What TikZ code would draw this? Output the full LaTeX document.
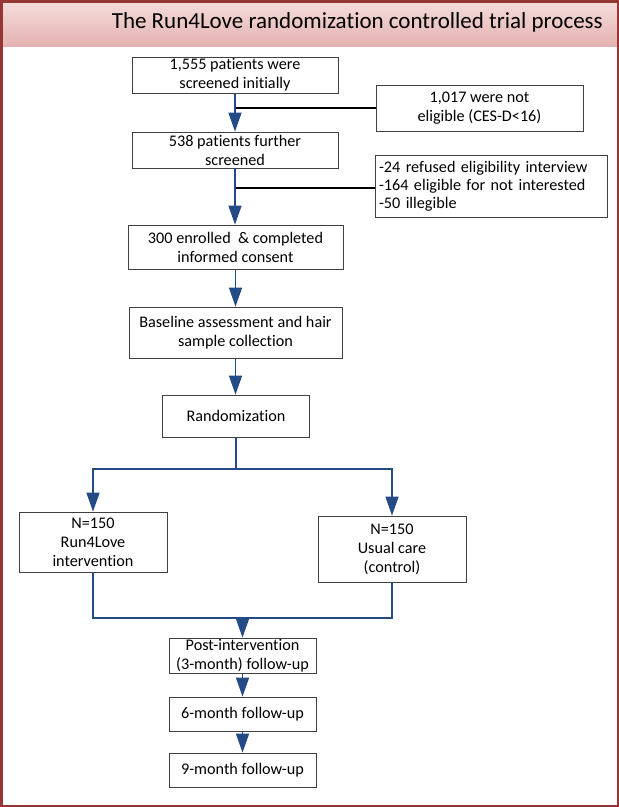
\documentclass[tikz,border=0pt]{standalone}
\usepackage{fontspec}
\setmainfont{Carlito}[Ligatures={NoCommon}]
\usetikzlibrary{arrows.meta}
\definecolor{frame}{RGB}{148,54,52}
\definecolor{flow}{RGB}{37,75,135}
\definecolor{boxline}{RGB}{64,64,64}
\definecolor{bandtop}{RGB}{244,222,221}
\definecolor{bandbot}{RGB}{228,178,176}
\begin{document}
\begin{tikzpicture}[x=1pt,y=-1pt,
  box/.style={draw=boxline, line width=0.8pt, rectangle, align=center, inner sep=0pt,
    font=\fontsize{16.2}{19}\selectfont},
  sidebox/.style={draw=boxline, line width=0.8pt, rectangle, align=left, inner xsep=4pt, inner ysep=0pt,
    font=\fontsize{16.2}{18}\selectfont},
  flowarrow/.style={draw=flow, line width=1.6pt, -{Triangle[length=19pt,width=13pt]}},
  flowline/.style={draw=flow, line width=1.6pt},
  sideline/.style={draw=black, line width=1.1pt}]
\useasboundingbox (0,0) rectangle (619,807);
% title band
\shade[top color=bandtop, bottom color=bandbot] (0,0) rectangle (619,46);
\node[anchor=east, inner sep=0pt, font=\fontsize{23}{27}\selectfont] (title) at (603,22)
  {The Run4Love randomization controlled trial process};
% outer frame
\draw[frame, line width=2.5pt] (1.25,1.25) rectangle (617.75,805.75);

% main boxes
\node[box, minimum width=206pt, minimum height=36pt] (b1) at (235,75) {1,555 patients were\\screened initially};
\node[box, minimum width=207pt, minimum height=46pt] (s1) at (479.5,108) {1,017 were not\\eligible (CES-D<16)};
\node[box, minimum width=206pt, minimum height=36pt] (b2) at (235,150) {538 patients further\\screened};
\node[sidebox, text width=224pt, minimum height=62pt] (s2) at (491,186)
  {-24 refused eligibility interview\\-164 eligible for not interested\\-50 illegible};
\node[box, minimum width=215pt, minimum height=44pt] (b3) at (235.5,247) {300 enrolled ~\&~completed\\informed consent};
\node[box, minimum width=213pt, minimum height=51pt] (b4) at (235.5,332.5) {Baseline assessment and hair\\sample collection};
\node[box, minimum width=147pt, minimum height=42pt] (r) at (236,416) {Randomization};
\node[box, minimum width=148pt, minimum height=60pt] (L) at (93,542) {N=150\\Run4Love\\intervention};
\node[box, minimum width=148pt, minimum height=66pt] (R) at (392,549) {N=150\\Usual care\\(control)};
\node[box, minimum width=147pt, minimum height=35pt] (p) at (242.5,655.5) {Post-intervention\\(3-month) follow-up};
\node[box, minimum width=147pt, minimum height=34pt] (m6) at (242.5,714) {6-month follow-up};
\node[box, minimum width=147pt, minimum height=34pt] (m9) at (242.5,770) {9-month follow-up};

% exclusion stubs
\coordinate (j1) at (b1.south |- s1.west);
\draw[sideline] (j1) -- (s1.west);
\coordinate (j2) at (b2.south |- 0,188);
\draw[sideline] (j2) -- (s2.west |- j2);

% flow
\draw[flowarrow] (b1.south) -- (b2.north);
\draw[flowarrow] (b2.south) -- (b2.south |- b3.north);
\draw[flowarrow] (b3.south) -- (b3.south |- b4.north);
\draw[flowarrow] (b4.south) -- (b4.south |- r.north);
\coordinate (rj) at (r.south |- 0,469);
\draw[flowarrow] (r.south) -- (rj) -| (L.north);
\draw[flowarrow] (rj) -| (R.north);
\coordinate (mrow) at (0,618);
\draw[flowline] (L.south) -- (L.south |- mrow) -- (R.south |- mrow) -- (R.south);
\draw[flowarrow] (p.north |- mrow) -- (p.north);
\draw[flowarrow] (p.south) -- (m6.north);
\draw[flowarrow] (m6.south) -- (m9.north);
\end{tikzpicture}
\end{document}
